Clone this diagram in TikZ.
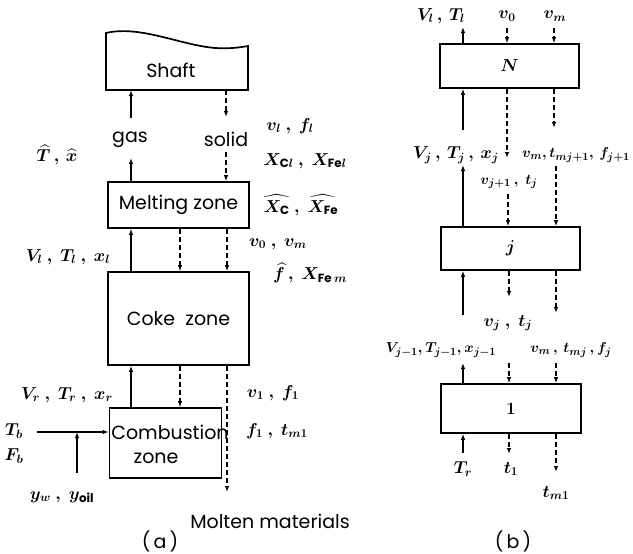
\documentclass[tikz,border=0pt]{standalone}
\usepackage{amsmath}
\usepackage{fontspec}
\setmainfont{Poppins}
\usetikzlibrary{arrows.meta}
\begin{document}
\begin{tikzpicture}[x=1pt,y=-1pt,
  box/.style={draw, line width=1.7pt, inner sep=0pt},
  flow/.style={line width=1.1pt, -{Latex[open,length=6pt,width=4.5pt]}},
  sflow/.style={flow, dash pattern=on 5pt off 3pt},
  txt/.style={font=\fontsize{19}{21}\selectfont, inner sep=0pt},
  lab/.style={font=\fontsize{17}{19}\selectfont\boldmath, inner sep=0pt},
  slab/.style={font=\fontsize{15.5}{18}\selectfont\boldmath, inner sep=0pt}]
\useasboundingbox (0,0) rectangle (633,554);

% ---------------- panel (a) ----------------
\draw[line width=1.7pt] (106,90) -- (106,33) .. controls (140,25) and (180,45) .. (215,48)
  .. controls (232,49) and (242,47) .. (248,46) -- (248,90) -- cycle;
\node[txt] (shaft) at (171,70) {Shaft};
\coordinate (shaftb) at (177,90);

\node[box, minimum width=141pt, minimum height=46pt] (melt) at (178.5,205) {};
\node[txt] at (melt) {Melting\ zone};
\node[box, minimum width=141pt, minimum height=93pt] (coke) at (178.5,318.5) {};
\node[txt] at (coke) {Coke\ \ zone};
\node[box, minimum width=112pt, minimum height=70pt] (comb) at (165.5,443) {};
\node[txt] at (170,432) {Combustion};
\node[txt] at (156,458) {zone};

\coordinate (xa) at (131,0);
\coordinate (xb) at (180,0);
\coordinate (xc) at (227,0);

\node[txt] (gas) at (130,140) {gas};
\node[txt] (solid) at (226,139) {solid};
\coordinate (gtop) at (131,118);
\coordinate (gbot) at (131,158);
\coordinate (stop) at (226,117);
\coordinate (sbot) at (226,152);
\draw[flow] (gtop) -- (shaftb -| xa);
\draw[flow] (melt.north -| xa) -- (gbot);
\draw[sflow] (shaftb -| stop) -- (stop);
\draw[sflow] (sbot) -- (melt.north -| sbot);

\draw[flow] (coke.north -| xa) -- (melt.south -| xa);
\draw[sflow] (melt.south -| xb) -- (coke.north -| xb);
\draw[sflow] (melt.south -| xc) -- (coke.north -| xc);

\draw[flow] (comb.north -| xa) -- (coke.south -| xa);
\draw[sflow] (coke.south -| xb) -- (comb.north -| xb);
\coordinate (molt) at (227,492);
\draw[sflow] (coke.south -| molt) -- (molt);

\coordinate (tbs) at (37,432);
\coordinate (jn) at (77,432);
\coordinate (yb) at (77,473);
\draw[flow] (tbs) -- (comb.west |- tbs);
\draw[flow] (yb) -- (jn);

\node[lab] (lT) at (57,155) {$\widehat{T}\,,\,\widehat{x}$};
\node[lab] (lVl) at (68,257) {$V_l\ ,\ T_l\ ,\ x_l$};
\node[lab] (lVr) at (67,395) {$V_r\ ,\ T_r\ ,\ x_r$};
\node[lab] (lTb) at (14,431) {$T_b$};
\node[lab] (lFb) at (14,456) {$F_b$};
\node[lab] (lyw) at (62,497) {$y_w\ ,\ y_{\mathrm{oil}}$};

\node[lab] (r1) at (290,126) {$v_l\ ,\ f_l$};
\node[lab] (r2) at (305,161) {$X_{\mathrm{C}l}\ ,\ X_{\mathrm{Fe}l}$};
\node[lab] (r3) at (301,205) {$\widehat{X_{\mathrm{C}}}\ ,\ \widehat{X_{\mathrm{Fe}}}$};
\node[lab] (r4) at (278,244) {$v_0\ ,\ v_m$};
\node[lab] (r5) at (310,273) {$\widehat{f}\,,\ X_{\mathrm{Fe}\,m}$};
\node[lab] (r6) at (273,393) {$v_1\ ,\ f_1$};
\node[lab] (r7) at (277,431) {$f_1\ ,\ t_{m1}$};

\node[txt] (molten) at (270,521) {Molten materials};
\node[txt] (capa) at (160,541) {(\,a\,)};

% ---------------- panel (b) ----------------
\node[box, minimum width=139pt, minimum height=44pt] (N) at (509.5,66) {};
\node[lab, font=\fontsize{19}{20}\selectfont\boldmath] at (N) {$N$};
\node[box, minimum width=139pt, minimum height=43pt] (J) at (510.5,248.5) {};
\node[lab, font=\fontsize{19}{20}\selectfont\boldmath] at (J) {$j$};
\node[box, minimum width=140pt, minimum height=49pt] (B1) at (511,408.5) {};
\node[lab, font=\fontsize{19}{20}\selectfont\boldmath] at (B1) {$1$};

% top of N
\node[lab] (nVT) at (441,16) {$V_l\,,\,T_l$};
\node[lab] (nv0) at (507,16) {$v_0$};
\node[lab] (nvm) at (555,16) {$v_m$};
\coordinate (nt1) at (463,27);
\coordinate (nt2) at (507,28);
\coordinate (nt3) at (554,28);
\draw[flow] (N.north -| nt1) -- (nt1);
\draw[sflow] (nt2) -- (N.north -| nt2);
\draw[sflow] (nt3) -- (N.north -| nt3);

% between N and j
\coordinate (m1) at (463,130);
\coordinate (m2) at (507,158);
\coordinate (m3) at (554,128);
\draw[flow] (m1) -- (N.south -| m1);
\draw[sflow] (N.south -| m2) -- (m2);
\draw[sflow] (N.south -| m3) -- (m3);
\node[lab] (lj1) at (456,155) {$V_j\,,\,T_j\,,\,x_j$};
\node[slab] (lj2) at (576,155) {$v_m,t_{mj+1},\,f_{j+1}$};
\node[slab] (lj3) at (509,182) {$v_{j+1}\,,\ t_j$};
\coordinate (k1) at (463,165);
\coordinate (k2) at (508,194);
\coordinate (k3) at (556,166);
\draw[flow] (J.north -| k1) -- (k1);
\draw[sflow] (k2) -- (J.north -| k2);
\draw[sflow] (k3) -- (J.north -| k3);

% between j and 1
\coordinate (p1) at (463,315);
\coordinate (p2) at (509,297);
\coordinate (p3) at (556,313);
\draw[flow] (p1) -- (J.south -| p1);
\draw[sflow] (J.south -| p2) -- (p2);
\draw[sflow] (J.south -| p3) -- (p3);
\node[lab] (lvj) at (508,323) {$v_j\ ,\ t_j$};
\node[slab] (lq1) at (441,350) {$V_{j-1},T_{j-1},x_{j-1}$};
\node[slab] (lq2) at (571,350) {$v_m\,,\,t_{mj}\,,f_j$};
\coordinate (q1) at (463,363);
\coordinate (q2) at (509,363);
\coordinate (q3) at (556,363);
\draw[flow] (B1.north -| q1) -- (q1);
\draw[sflow] (q2) -- (B1.north -| q2);
\draw[sflow] (q3) -- (B1.north -| q3);

% below 1
\coordinate (s1) at (463,453);
\coordinate (s2) at (509,454);
\coordinate (s3) at (556,472);
\draw[flow] (s1) -- (B1.south -| s1);
\draw[sflow] (B1.south -| s2) -- (s2);
\draw[sflow] (B1.south -| s3) -- (s3);
\node[lab] (lTr) at (463,469) {$T_r$};
\node[lab] (lt1) at (511,469) {$t_1$};
\node[lab] (ltm) at (556,493) {$t_{m1}$};

\node[txt] (capb) at (513,541) {(\,b\,)};
\end{tikzpicture}
\end{document}
